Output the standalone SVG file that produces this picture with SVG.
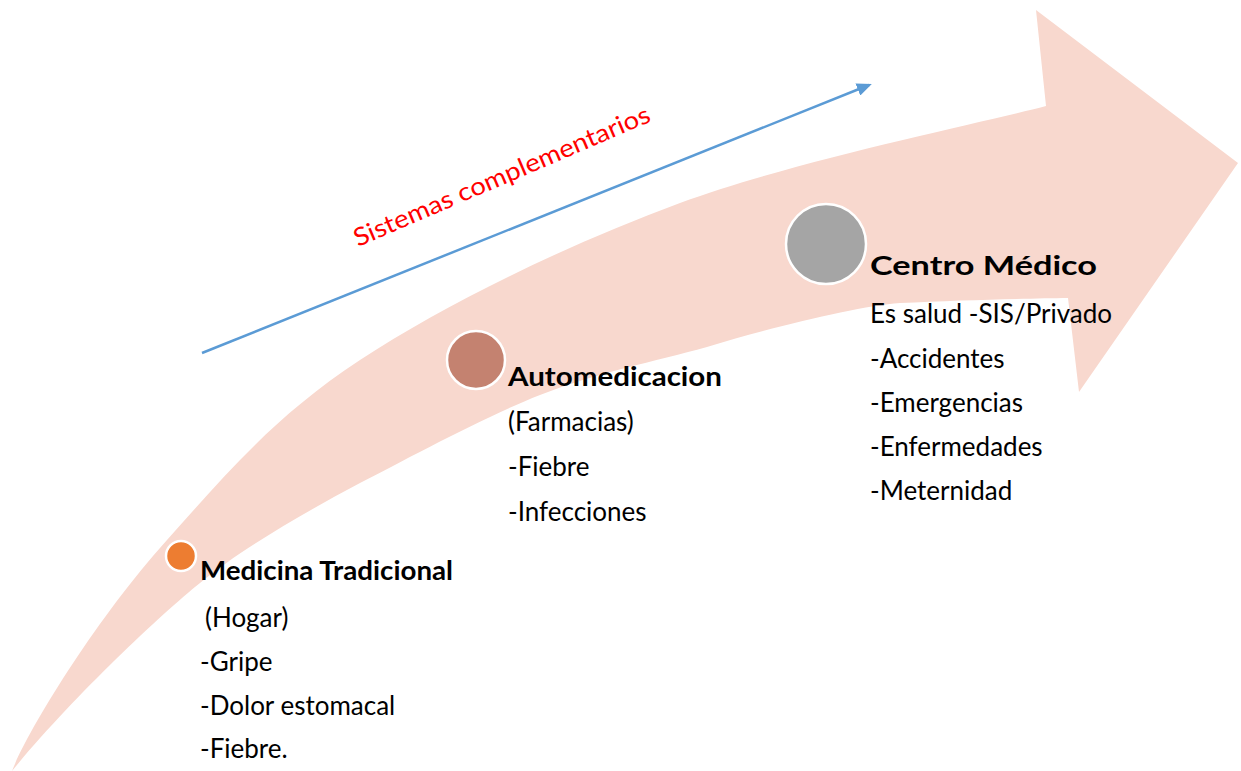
<svg xmlns="http://www.w3.org/2000/svg" width="1241" height="771" viewBox="0 0 1241 771">
<style>
  .t { font-family: Lato, "Open Sans", "Liberation Sans", sans-serif; font-size: 26px; fill: #000; }
  .b { font-weight: bold; }
  .dot { stroke: #fff; stroke-width: 2.5; }
</style>
<defs>
  <marker id="ah" markerWidth="15" markerHeight="13" refX="12" refY="6.5" orient="auto" markerUnits="userSpaceOnUse" viewBox="0 0 15 13">
    <path d="M0,0 L15,6.5 L0,13 z" fill="#5B9BD5"/>
  </marker>
</defs>
<rect width="1241" height="771" fill="#fff"/>
<g id="big-arrow">
  <path d="M12,771 C28,730 95,620 167,540 C227,473 274.5,416.2 360,360 C445.5,303.8 565.7,245.3 680,203 C794.3,160.7 985,122.2 1046,106 L1036,10 L1238,163 L1079,392 L1068,298 C1030,298.5 960,300 900,303 C860,306 780,325 707,347 C654.2,361.7 597.8,372.3 540,395 C482.2,417.7 405.5,459.7 360,483 C300,515 240,550 200,583 C160,615 70,700 12,771 Z" fill="#F8D8CE"/>
</g>
<g id="connectors">
  <line x1="202" y1="353" x2="869" y2="85" stroke="#5B9BD5" stroke-width="2.5" marker-end="url(#ah)"/>
  <text x="358" y="247" transform="rotate(-23.2 358 247)" font-family="Lato, 'Open Sans', 'Liberation Sans', sans-serif" font-size="25" fill="#FF0000" textLength="320" lengthAdjust="spacingAndGlyphs">Sistemas complementarios</text>
</g>
<g id="node-medicina">
  <circle class="dot" cx="181" cy="556" r="15" fill="#ED7D31"/>
  <text class="t b" x="200" y="580" textLength="253" lengthAdjust="spacingAndGlyphs">Medicina Tradicional</text>
  <text class="t" x="205" y="627">(Hogar)</text>
  <text class="t" x="200" y="671">-Gripe</text>
  <text class="t" x="200" y="715">-Dolor estomacal</text>
  <text class="t" x="200" y="758">-Fiebre.</text>
</g>
<g id="node-automedicacion">
  <circle class="dot" cx="476" cy="360" r="29" fill="#C48270"/>
  <text class="t b" x="508" y="386" textLength="214" lengthAdjust="spacingAndGlyphs">Automedicacion</text>
  <text class="t" x="508" y="431">(Farmacias)</text>
  <text class="t" x="508" y="476">-Fiebre</text>
  <text class="t" x="508" y="521">-Infecciones</text>
</g>
<g id="node-centro">
  <circle class="dot" cx="826" cy="244" r="40" fill="#A5A5A5"/>
  <text class="t b" x="870" y="275" font-size="33" textLength="227" lengthAdjust="spacingAndGlyphs">Centro Médico</text>
  <text class="t" x="870" y="323">Es salud -SIS/Privado</text>
  <text class="t" x="870" y="368">-Accidentes</text>
  <text class="t" x="870" y="412">-Emergencias</text>
  <text class="t" x="870" y="456">-Enfermedades</text>
  <text class="t" x="870" y="500">-Meternidad</text>
</g>
</svg>
